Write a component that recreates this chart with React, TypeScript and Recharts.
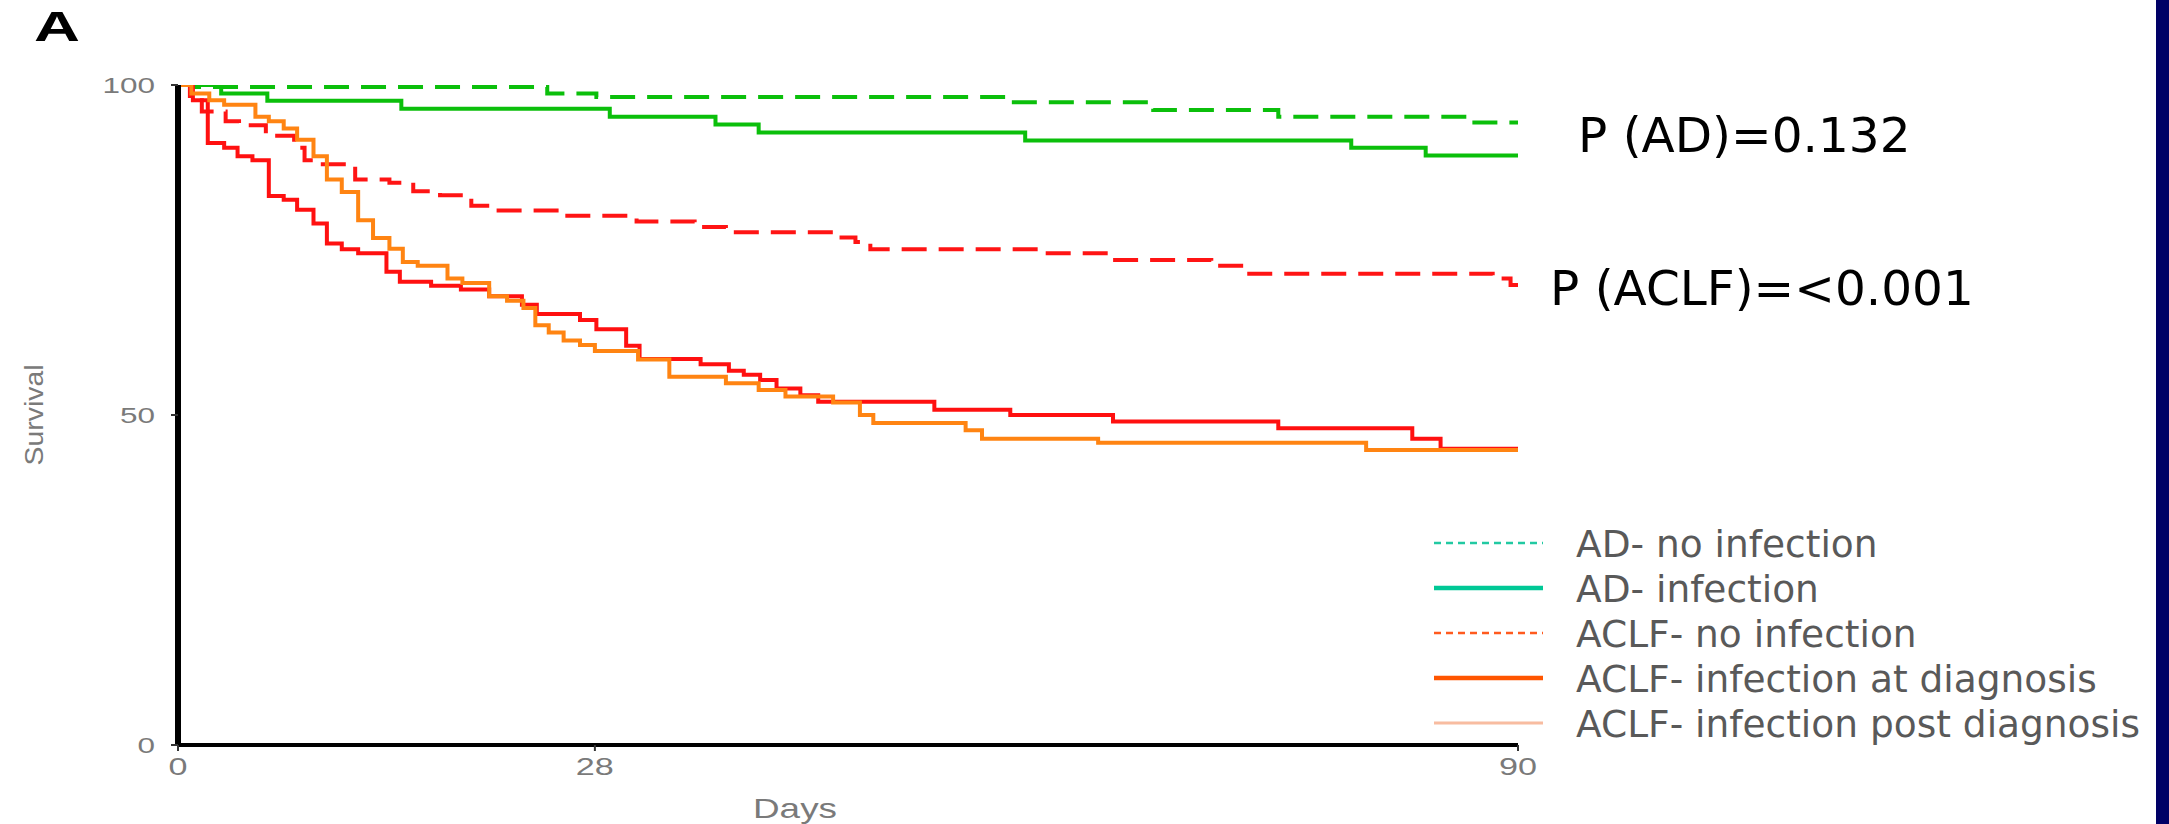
import { LineChart, Line, XAxis, YAxis } from "recharts"

// Kaplan–Meier style survival, 90 days. [day, survival %] after each step.
const X_TICKS = [0, 28, 90]
const Y_TICKS = [0, 50, 100]

const AD_NO_INFECTION: [number, number][] = [
  [0, 100], [1, 99.7], [24.8, 98.7], [28.1, 98.2], [55.9, 97.4], [65.5, 96.2],
  [73.9, 95.2], [86.8, 94.3], [90, 94.3],
]

const AD_INFECTION: [number, number][] = [
  [0, 100], [2.9, 98.7], [6.0, 97.6], [15.0, 96.4], [29.0, 95.2], [36.1, 94.0],
  [39.0, 92.8], [56.9, 91.6], [78.8, 90.5], [83.8, 89.3], [90, 89.3],
]

const ACLF_NO_INFECTION: [number, number][] = [
  [0, 100], [0.8, 97.7], [1.6, 96.0], [3.2, 94.5], [4.1, 93.9], [5.9, 92.3],
  [7.8, 90.5], [8.5, 88.6], [9.2, 88.0], [11.9, 85.7], [14.2, 85.2], [15.8, 83.9],
  [17.6, 83.3], [19.7, 81.7], [21.2, 81.0], [25.7, 80.2], [30.8, 79.3], [34.7, 78.5],
  [36.8, 77.7], [44.3, 76.9], [45.5, 76.2], [46.5, 75.1], [57.8, 74.5], [62.7, 73.5],
  [69.4, 72.6], [71.7, 71.4], [88.3, 70.7], [89.5, 69.7], [90, 69.7],
]

const ACLF_INFECTION_DX: [number, number][] = [
  [0, 100], [1.0, 97.7], [2.0, 91.2], [3.1, 90.5], [4.0, 89.2], [5.0, 88.6],
  [6.1, 83.2], [7.1, 82.6], [8.0, 81.1], [9.1, 79.0], [10.0, 76.0], [11.0, 75.1],
  [12.1, 74.5], [14.0, 71.7], [14.9, 70.2], [17.0, 69.6], [19.0, 69.0], [20.9, 68.0],
  [23.1, 66.7], [24.1, 65.3], [27.0, 64.4], [28.1, 63.0], [30.1, 60.5], [31.0, 58.5],
  [35.1, 57.7], [37.0, 56.7], [38.0, 56.1], [39.1, 55.3], [40.2, 54.0], [41.8, 53.0],
  [43.0, 52.0], [50.8, 50.8], [55.9, 50.0], [62.8, 49.0], [73.9, 48.0], [82.9, 46.4],
  [84.8, 44.9], [90, 44.9],
]

const ACLF_INFECTION_POST: [number, number][] = [
  [0, 100], [0.9, 98.7], [2.1, 97.7], [3.1, 97.0], [5.2, 95.2], [6.1, 94.5],
  [7.1, 93.4], [8.0, 91.7], [9.1, 89.2], [10.0, 85.7], [11.0, 83.8], [12.1, 79.5],
  [13.1, 76.8], [14.2, 75.2], [15.1, 73.2], [16.1, 72.6], [18.1, 70.7], [19.1, 70.0],
  [20.9, 68.0], [22.1, 67.3], [23.2, 66.2], [24.0, 63.6], [24.9, 62.5], [25.9, 61.3],
  [27.0, 60.6], [28.0, 59.7], [30.9, 58.4], [33.0, 55.8], [36.8, 54.8], [39.0, 53.8],
  [40.8, 52.8], [44.0, 51.9], [45.8, 50.0], [46.7, 48.8], [52.9, 47.7], [54.0, 46.4],
  [61.8, 45.8], [79.8, 44.7], [90, 44.7],
]

const LEGEND_NAMES = [
  "AD- no infection",
  "AD- infection",
  "ACLF- no infection",
  "ACLF- infection at diagnosis",
  "ACLF- infection post diagnosis",
]

const P_LABELS = ["P (AD)=0.132", "P (ACLF)=<0.001"]

// legend swatches don't match the plotted colours in the source figure
const LEGEND_STYLE = [
  { color: "#22c9a2", width: 2.6, dash: "7 5" },
  { color: "#00c896", width: 4.6, dash: undefined },
  { color: "#ff5a1e", width: 2.6, dash: "7 5" },
  { color: "#ff5500", width: 4.6, dash: undefined },
  { color: "#f8bca0", width: 3, dash: undefined },
]

const toPoints = (rows: [number, number][]) => rows.map(([day, surv]) => ({ day, surv }))

const SERIES = [
  { key: "adNo", rows: AD_NO_INFECTION, color: "#0bbf0b", dash: "25 12" },
  { key: "adInf", rows: AD_INFECTION, color: "#0bbf0b", dash: undefined },
  { key: "aclfNo", rows: ACLF_NO_INFECTION, color: "#ff1414", dash: "25 12" },
  { key: "aclfDx", rows: ACLF_INFECTION_DX, color: "#ff1010", dash: undefined },
  { key: "aclfPost", rows: ACLF_INFECTION_POST, color: "#ff8412", dash: undefined },
]

const TICK_FONT = "'Liberation Sans', Arial, sans-serif"
const TEXT_FONT = "'DejaVu Sans', Verdana, sans-serif"

function YTick(props: any) {
  const { x, y, payload } = props
  const s = String(payload.value)
  return (
    <text x={x} y={y} dy={8} textAnchor="end" fontSize={22} fill="#7a7a7a" fontFamily={TICK_FONT}
      textLength={s.length * 17.5} lengthAdjust="spacingAndGlyphs">
      {s}
    </text>
  )
}

function XTick(props: any) {
  const { x, y, payload } = props
  const s = String(payload.value)
  return (
    <text x={x} y={y} dy={17} textAnchor="middle" fontSize={24} fill="#7a7a7a" fontFamily={TICK_FONT}
      textLength={s.length * 19} lengthAdjust="spacingAndGlyphs">
      {s}
    </text>
  )
}

function SurvivalLabel(props: any) {
  const { x, y, height } = props.viewBox
  const cx = x + 34
  const cy = y + height / 2
  return (
    <text x={cx} y={cy} transform={`rotate(-90 ${cx} ${cy})`} textAnchor="middle" dy={9}
      fontSize={26} fill="#7a7a7a" fontFamily={TICK_FONT} textLength={101} lengthAdjust="spacingAndGlyphs">
      Survival
    </text>
  )
}

function DaysLabel(props: any) {
  const { x, y } = props.viewBox
  return (
    <text x={x + 617} y={y + 73} textAnchor="middle" fontSize={28} fill="#7a7a7a" fontFamily={TICK_FONT}
      textLength={84} lengthAdjust="spacingAndGlyphs">
      Days
    </text>
  )
}

function LegendBox({ left, top }: { left: number; top: number }) {
  return (
    <g transform={`translate(${left} ${top})`}>
      {LEGEND_NAMES.map((name, i) => {
        const base = 37 + i * 45
        const st = LEGEND_STYLE[i]
        return (
          <g key={name}>
            <line x1={0} x2={109} y1={base - 14} y2={base - 14} stroke={st.color}
              strokeWidth={st.width} strokeDasharray={st.dash} />
            <text x={142} y={base} fontSize={37.5} fill="#595959" fontFamily={TEXT_FONT}>
              {name}
            </text>
          </g>
        )
      })}
    </g>
  )
}

export default function App() {
  return (
    <div style={{ position: "relative", width: 2169, height: 824, background: "#fff", overflow: "hidden" }}>
      <style>{"body{margin:0}"}</style>
      <LineChart width={2169} height={824} margin={{ top: 85, right: 651, bottom: 0, left: 0 }}>
        <XAxis
          type="number"
          dataKey="day"
          domain={[0, 90]}
          ticks={X_TICKS}
          height={79}
          axisLine={{ stroke: "#000", strokeWidth: 4 }}
          tickLine={{ stroke: "#333", strokeWidth: 2 }}
          tickSize={6}
          tickMargin={7}
          tick={<XTick />}
          label={{ content: <DaysLabel /> }}
          allowDataOverflow
        />
        <YAxis
          type="number"
          domain={[0, 100]}
          ticks={Y_TICKS}
          width={178}
          axisLine={{ stroke: "#000", strokeWidth: 6 }}
          tickLine={{ stroke: "#333", strokeWidth: 2 }}
          tickSize={7}
          tickMargin={16}
          tick={<YTick />}
          label={{ content: <SurvivalLabel /> }}
          allowDataOverflow
        />
        {SERIES.map((s) => (
          <Line
            key={s.key}
            data={toPoints(s.rows)}
            dataKey="surv"
            type="stepAfter"
            stroke={s.color}
            strokeWidth={4}
            strokeDasharray={s.dash}
            dot={false}
            activeDot={false}
            isAnimationActive={false}
            legendType="none"
          />
        ))}
      </LineChart>
      <svg width={2169} height={824} style={{ position: "absolute", left: 0, top: 0, pointerEvents: "none" }}>
        <text x={34} y={41} fontSize={42} fontWeight="bold" fill="#000" fontFamily={TICK_FONT}
          textLength={46} lengthAdjust="spacingAndGlyphs">
          A
        </text>
        <text x={1578} y={152} fontSize={48.5} fill="#000" fontFamily={TEXT_FONT}>{P_LABELS[0]}</text>
        <text x={1550} y={305} fontSize={48.5} fill="#000" fontFamily={TEXT_FONT}>{P_LABELS[1]}</text>
        <LegendBox left={1434} top={520} />
      </svg>
      <div style={{ position: "absolute", left: 2156, top: 0, width: 13, height: 824, background: "#000066" }} />
    </div>
  )
}
